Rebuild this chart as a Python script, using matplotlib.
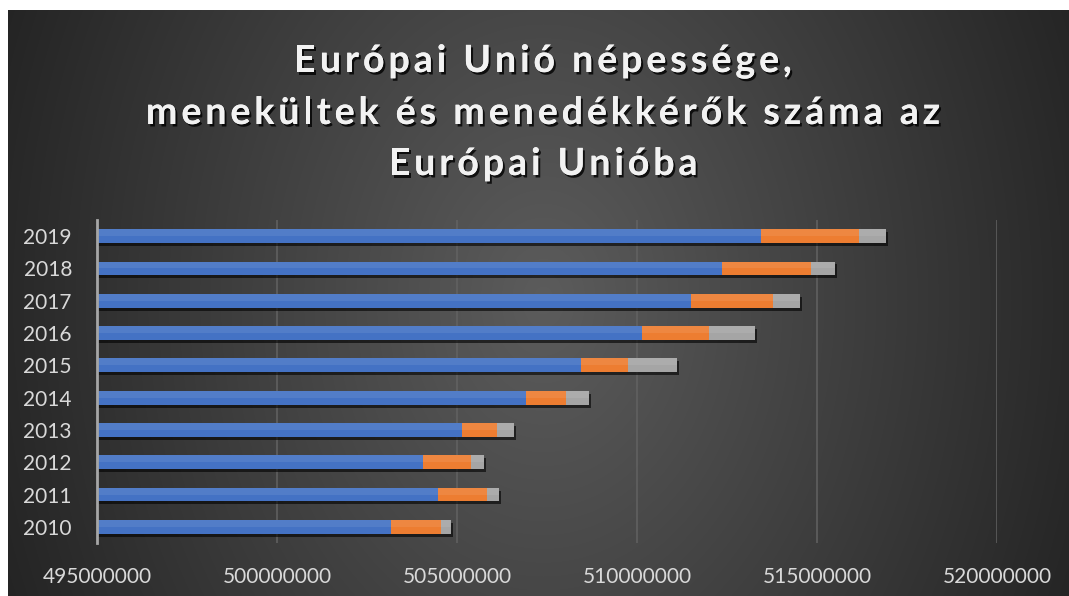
import numpy as np
import matplotlib
matplotlib.use("Agg")
import matplotlib.pyplot as plt
import matplotlib.patheffects as pe

# adatok (millió fő)
years = ["2010", "2011", "2012", "2013", "2014", "2015", "2016", "2017", "2018", "2019"]
nepesseg = [503.17, 504.47, 504.06, 505.14, 506.92, 508.44, 510.14, 511.50, 512.36, 513.44]
menekultek = [1.39, 1.36, 1.33, 0.97, 1.11, 1.30, 1.86, 2.28, 2.47, 2.72]
menedekkerok = [0.28, 0.33, 0.36, 0.47, 0.64, 1.36, 1.28, 0.75, 0.67, 0.75]
xticks = [495000000, 500000000, 505000000, 510000000, 515000000, 520000000]

title_lines = ["Európai Unió népessége,",
               "menekültek és menedékkérők száma az",
               "Európai Unióba"]

W, H = 1069, 596
fig = plt.figure(figsize=(W / 100, H / 100), dpi=100, facecolor="white")

# hatter: sotet radialis atmenet
bx0, by0 = 8, 10
bg = fig.add_axes([bx0 / W, 0, 1 - bx0 / W, 1 - by0 / H])
gx, gy = np.meshgrid(np.arange(W - bx0), np.arange(H - by0))
r = np.sqrt(((gx - 535) / 520.0) ** 2 + ((gy - 290) / 690.0) ** 2)
val = np.clip(92 - 50 * r, 36, 95) / 255.0
bg.imshow(np.dstack([val, val, val]), aspect="auto", interpolation="bilinear")
bg.axis("off")

# diagram
ax = fig.add_axes([97 / W, 1 - 543 / H, 900 / W, 323 / H])
ax.set_facecolor("none")

pop = np.array(nepesseg) * 1e6
ref = np.array(menekultek) * 1e6
asy = np.array(menedekkerok) * 1e6
y = np.arange(len(years))
h = 0.43

total = pop + ref + asy
ax.barh(y - 0.09, total + 55000, height=h, color="black", alpha=0.6, zorder=2)
ax.barh(y, pop, height=h, color="#4472C4", zorder=3)
ax.barh(y, ref, left=pop, height=h, color="#ED7D31", zorder=3)
ax.barh(y, asy, left=pop + ref, height=h, color="#A5A5A5", zorder=3)
# enyhe fenyes felso resz
ax.barh(y + h / 4, total, height=h / 2, color="white", alpha=0.08, zorder=4)

ax.set_xlim(495e6, 520e6)
ax.set_ylim(-0.5, 9.5)
ax.set_xticks(xticks)
ax.set_xticklabels([str(t) for t in xticks])
ax.set_yticks(y)
ax.set_yticklabels(years)
ax.grid(axis="x", color="#626262", linewidth=1.1, zorder=1)
ax.set_axisbelow(True)
for s in ["top", "right", "bottom"]:
    ax.spines[s].set_visible(False)
ax.spines["left"].set_color("#a6a6a6")
ax.spines["left"].set_linewidth(2)
ax.spines["left"].set_zorder(5)
ax.tick_params(axis="both", length=0, colors="#d9d9d9", labelsize=15)
ax.tick_params(axis="y", pad=18, labelsize=15)
ax.tick_params(axis="x", pad=17)
for lab in ax.get_xticklabels() + ax.get_yticklabels():
    lab.set_fontfamily("Lato")

# cim ritkitott betukkel
renderer = fig.canvas.get_renderer()
tprops = dict(fontfamily="Lato", fontweight="bold", fontsize=27)
sp = 4.0


def text_w(s):
    t = fig.text(0, 0, s, **tprops)
    w = t.get_window_extent(renderer).width
    t.remove()
    return w


bar_w = text_w("|")
shadow = [pe.withSimplePatchShadow(offset=(1.5, -1.8), shadow_rgbFace="black", alpha=0.8),
          pe.Normal()]
baselines = [72, 124, 175]
for line, base in zip(title_lines, baselines):
    adv = [text_w(line[:i] + "|") - bar_w if i else 0 for i in range(len(line))]
    width = text_w(line) + sp * (len(line) - 1)
    x0 = 543 - width / 2
    for i, ch in enumerate(line):
        if ch == " ":
            continue
        fig.text((x0 + adv[i] + sp * i) / W, 1 - base / H, ch, color="#f2f2f2",
                 ha="left", va="baseline", path_effects=shadow, **tprops)

fig.savefig("out.png", dpi=100, facecolor="white")
